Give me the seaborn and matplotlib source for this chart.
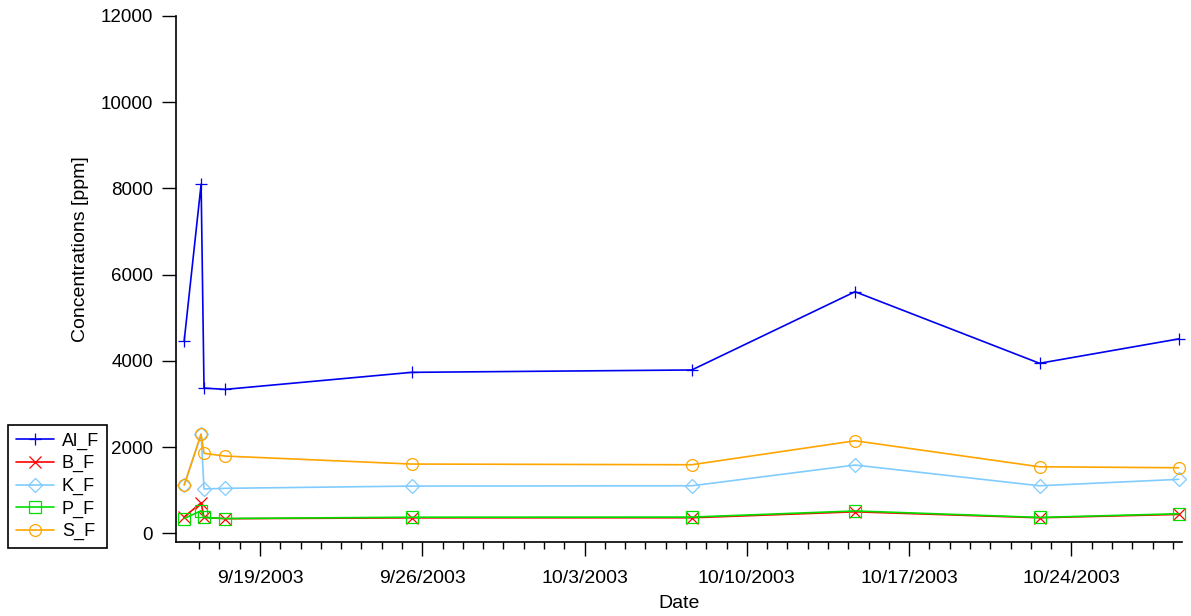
import numpy as np
import pandas as pd
import matplotlib
matplotlib.use("Agg")
import matplotlib.pyplot as plt
import matplotlib.dates as mdates
from matplotlib.ticker import FixedLocator, FuncFormatter
import seaborn as sns

# Sampling times and filter concentrations (ppm)
sample_times = pd.to_datetime([
    "2003-09-15 17:30", "2003-09-16 11:00", "2003-09-16 14:00",
    "2003-09-17 12:00", "2003-09-25 13:00", "2003-10-07 15:00",
    "2003-10-14 16:00", "2003-10-22 15:00", "2003-10-28 15:00",
])
al_f = [4470, 8100, 3370, 3340, 3735, 3790, 5605, 3945, 4510]
b_f = [380, 710, 370, 340, 360, 362, 500, 362, 440]
k_f = [1120, 2300, 1030, 1045, 1097, 1104, 1585, 1104, 1253]
p_f = [345, 525, 370, 345, 375, 378, 520, 370, 455]
s_f = [1120, 2300, 1856, 1793, 1608, 1592, 2148, 1545, 1522]

series_names = ["Al_F", "B_F", "K_F", "P_F", "S_F"]
series_values = [al_f, b_f, k_f, p_f, s_f]
series_colors = ["#0000F0", "#FF0000", "#80CCFF", "#00E000", "#FFA500"]
series_markers = ["+", "x", "D", "s", "o"]
series_msize = [9, 8.5, 7, 8, 8.5]

week_ticks = pd.date_range("2003-09-19", "2003-10-24", freq="7D")
y_ticks = [0, 2000, 4000, 6000, 8000, 10000, 12000]

sns.set_theme(style="ticks")
plt.rcParams["font.family"] = ["Liberation Sans", "DejaVu Sans"]
plt.rcParams["axes.edgecolor"] = "black"
plt.rcParams["xtick.color"] = "black"
plt.rcParams["ytick.color"] = "black"
plt.rcParams["text.color"] = "black"
plt.rcParams["axes.labelcolor"] = "black"

fig = plt.figure(figsize=(11.91, 6.16), dpi=100)
ax = fig.add_axes([176 / 1191, 74 / 616, 1006 / 1191, 526 / 616])

for name, vals, color, marker, ms in zip(series_names, series_values,
                                         series_colors, series_markers,
                                         series_msize):
    sns.lineplot(x=sample_times, y=vals, ax=ax, color=color, marker=marker,
                 markersize=ms, markerfacecolor="none", markeredgecolor=color,
                 markeredgewidth=0.9, linewidth=1.2, label=name, clip_on=False)

# Axis ranges
ax.set_xlim(pd.Timestamp("2003-09-15 09:00"), pd.Timestamp("2003-10-28 18:30"))
ax.set_ylim(-200, 12000)

# Weekly major ticks, minor ticks every 7/8 day
major_pos = mdates.date2num(week_ticks)
x0, x1 = ax.get_xlim()
minor_pos = np.arange(major_pos[0] - 3 * 0.875, x1, 0.875)
ax.xaxis.set_major_locator(FixedLocator(major_pos))
ax.xaxis.set_minor_locator(FixedLocator(minor_pos))
ax.xaxis.set_major_formatter(FuncFormatter(
    lambda v, _: "{d.month}/{d.day}/{d.year}".format(d=mdates.num2date(v))))
ax.yaxis.set_major_locator(FixedLocator(y_ticks))
ax.yaxis.set_major_formatter(FuncFormatter(lambda v, _: f"{int(v)}"))

sns.despine(ax=ax)
for side in ("left", "bottom"):
    ax.spines[side].set_linewidth(1.2)

ax.tick_params(axis="y", which="major", length=10, width=1.0,
               direction="out", labelsize=13.5, pad=6.5)
ax.tick_params(axis="x", which="major", length=10, width=1.0,
               direction="out", labelsize=14, pad=10)
ax.tick_params(axis="x", which="minor", length=5, width=1.0,
               direction="out")

ax.set_xlabel("Date", fontsize=14, labelpad=6)
ax.set_ylabel("Concentrations [ppm]", fontsize=14)
ax.yaxis.set_label_coords(-0.086, 0.557)

leg = ax.legend(loc="lower left", bbox_to_anchor=(8 / 1191, 68 / 616),
                bbox_transform=fig.transFigure, frameon=True, fancybox=False,
                framealpha=1, edgecolor="black", fontsize=13,
                handlelength=2.1, handletextpad=0.45, labelspacing=0.3,
                borderpad=0.43, borderaxespad=0)
leg.get_frame().set_linewidth(1.2)

fig.savefig("out.png", dpi=100, facecolor="white")
